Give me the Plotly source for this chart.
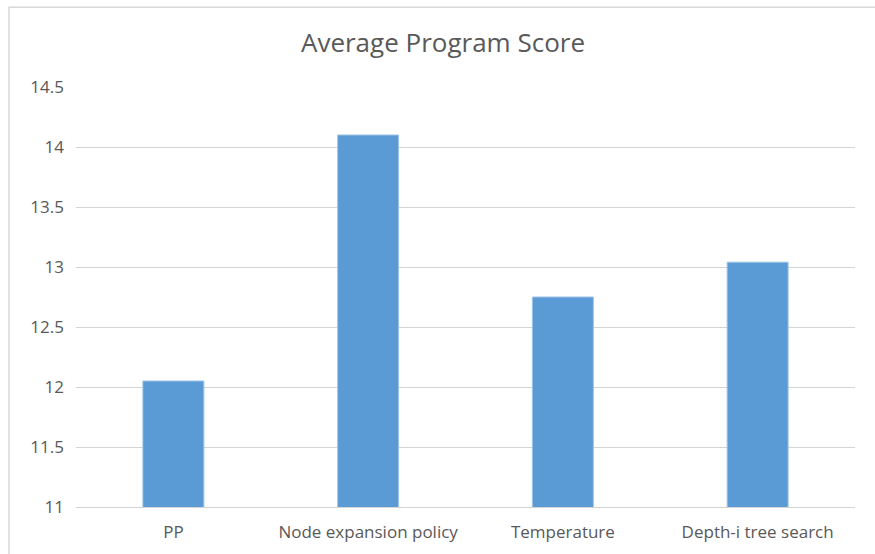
import plotly.graph_objects as go

categories = ["PP", "Node expansion policy", "Temperature", "Depth-i tree search"]
scores = [12.05, 14.10, 12.75, 13.04]
y_ticks = [11, 11.5, 12, 12.5, 13, 13.5, 14, 14.5]
y_tick_labels = ["11", "11.5", "12", "12.5", "13", "13.5", "14", "14.5"]

fig = go.Figure(go.Bar(
    x=categories, y=scores,
    marker=dict(color="#5B9BD5", line=dict(color="#9DC3E6", width=1)),
))

fig.update_layout(
    width=875, height=554,
    margin=dict(l=76, r=20, t=87, b=47),
    paper_bgcolor="white", plot_bgcolor="white",
    font=dict(family="Open Sans, Noto Sans, sans-serif", color="#595959", size=16),
    title=dict(text="Average Program Score", x=443/875, xref="container", xanchor="center",
               y=1 - 43/554, yref="container", yanchor="middle",
               font=dict(size=26, color="#595959")),
    bargap=0.687,
    showlegend=False,
    shapes=[dict(type="rect", xref="paper", yref="paper", x0=-0.086, x1=1.3, y0=-0.5, y1=1.19,
                 line=dict(color="#d9d9d9", width=1.5), fillcolor="rgba(0,0,0,0)", layer="below")],
)
fig.update_yaxes(range=[11, 14.5], tickvals=y_ticks, ticktext=y_tick_labels,
                 showgrid=True, gridcolor="#d4d4d4", gridwidth=1, zeroline=False,
                 showline=False, ticks="", ticklabelstandoff=11, tickfont=dict(size=17))
fig.update_xaxes(showline=True, linecolor="#d4d4d4", linewidth=1, ticks="",
                 ticklabelstandoff=10, tickfont=dict(size=17))
fig.write_html("out.html", config={"displayModeBar": False},
               post_script="document.body.style.margin='0';")
